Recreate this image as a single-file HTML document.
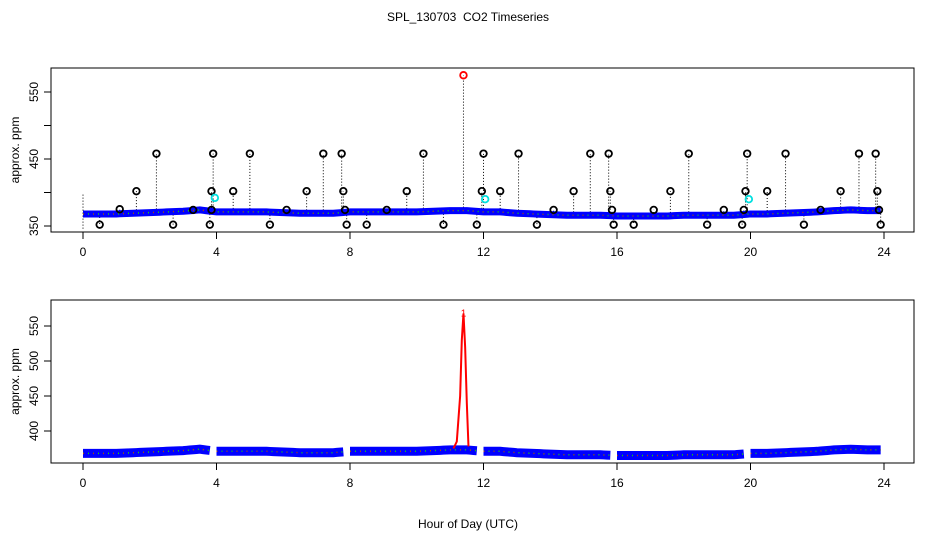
<!DOCTYPE html>
<html><head><meta charset="utf-8"><style>
body{margin:0;background:#fff}
svg{display:block;font-family:"Liberation Sans",sans-serif}
</style></head><body>
<svg id="chart" width="936" height="540" viewBox="0 0 936 540">
<text x="468" y="21" font-size="12" text-anchor="middle" style="white-space:pre" xml:space="preserve">SPL_130703  CO2 Timeseries</text>
<text x="468" y="528" font-size="12" text-anchor="middle">Hour of Day (UTC)</text>
<g id="topPanel"></g>
<g id="botPanel"></g>
</svg>
<script>
// half-hour baseline CO2 values (0..23.5)
const baseHours=[0,0.5,1,1.5,2,2.5,3,3.5,4,4.5,5,5.5,6,6.5,7,7.5,8,8.5,9,9.5,10,10.5,11,11.5,12,12.5,13,13.5,14,14.5,15,15.5,16,16.5,17,17.5,18,18.5,19,19.5,20,20.5,21,21.5,22,22.5,23,23.5,23.9];
const baseVals=[368,368,368,369,370,371,372,374,371,371,371,371,370,369,369,369,371,371,371,371,371,372,373,373,371,371,369,368,367,366,366,366,365,365,365,365,366,366,366,366,368,368,369,370,371,373,374,373,373];
// spike calibration points
const spikeHours=[0.5,1.1,1.6,2.2,2.7,3.3,3.8,3.85,3.85,3.9,4.5,5.0,5.6,6.1,6.7,7.2,7.75,7.8,7.85,7.9,8.5,9.1,9.7,10.2,10.8,11.8,11.95,12.0,12.5,13.05,13.6,14.1,14.7,15.2,15.75,15.8,15.85,15.9,16.5,17.1,17.6,18.15,18.7,19.2,19.75,19.8,19.85,19.9,20.5,21.05,21.6,22.1,22.7,23.25,23.75,23.8,23.85,23.9];
const spikeVals=[352,375,402,458,352,374,352,374,402,458,402,458,352,374,402,458,458,402,374,352,352,374,402,458,352,352,402,458,402,458,352,374,402,458,458,402,374,352,352,374,402,458,352,374,352,374,402,458,402,458,352,374,402,458,458,402,374,352];
const cyanHours=[3.95,12.05,19.95];
const cyanVals=[392,390,390];
const outlierHours=[11.4];
const outlierVals=[575];
// bottom panel red spike
const peakHours=[11.1,11.2,11.3,11.35,11.4,11.45,11.5,11.55];
const peakVals=[375,385,450,530,568,520,440,378];
const xTicks=[0,4,8,12,16,20,24];
const gaps=[[3.8,4.0],[7.8,8.0],[11.8,12.0],[15.8,16.0],[19.8,20.0]];

const NS="http://www.w3.org/2000/svg";
const X=h=>83+h*(884-83)/24;
const Yt=v=>226-(v-350)*0.67;
const Yb=v=>431-(v-400)*0.7;
function mk(p,t,a){const e=document.createElementNS(NS,t);for(const k in a)e.setAttribute(k,a[k]);p.appendChild(e);return e;}
function baseAt(h){for(let i=0;i<baseHours.length-1;i++){if(h<=baseHours[i+1]){const f=(h-baseHours[i])/(baseHours[i+1]-baseHours[i]);return baseVals[i]+f*(baseVals[i+1]-baseVals[i]);}}return baseVals[baseVals.length-1];}
function axes(g,Y,yt,labels,t0,b0){
  const box=mk(g,'rect',{x:51,y:t0,width:863,height:b0-t0,fill:'none',stroke:'#000','stroke-width':1});
  
  xTicks.forEach(t=>{
    const l=mk(g,'line',{x1:X(t),x2:X(t),y1:b0,y2:b0+7,stroke:'#000'});
    
    const tx=mk(g,'text',{x:X(t),y:b0+24,'font-size':12,'text-anchor':'middle'});tx.textContent=t;
    
  });
  yt.forEach((v,i)=>{
    const l=mk(g,'line',{x1:44,x2:51,y1:Y(v),y2:Y(v),stroke:'#000'});
    
    if(labels[i]){const tx=mk(g,'text',{x:0,y:0,'font-size':12,'text-anchor':'middle',transform:`translate(38,${Y(v)}) rotate(-90)`});tx.textContent=labels[i];
    }
  });
  const yl=mk(g,'text',{x:0,y:0,'font-size':12,'text-anchor':'middle',transform:`translate(19,${(t0+b0)/2}) rotate(-90)`});yl.textContent='approx. ppm';
  
}
const gTop=document.getElementById('topPanel'),gBot=document.getElementById('botPanel');
axes(gTop,Yt,[350,400,450,500,550],['350','','450','','550'],68,232);
axes(gBot,Yb,[400,450,500,550],['400','450','500','550'],300,463);

mk(gTop,'line',{x1:X(0),x2:X(0),y1:Yt(346),y2:Yt(398),stroke:'#000','stroke-dasharray':'1,2'});
spikeHours.forEach((h,i)=>{const l=mk(gTop,'line',{x1:X(h),x2:X(h),y1:Yt(baseAt(h)),y2:Yt(spikeVals[i]),stroke:'#000','stroke-dasharray':'1,2'});
});
outlierHours.forEach((h,i)=>{const l=mk(gTop,'line',{x1:X(h),x2:X(h),y1:Yt(baseAt(h)),y2:Yt(outlierVals[i]),stroke:'#000','stroke-dasharray':'1,2'});
});
function band(g,Y,w,splitGaps){
  let segs=[[0,23.9]];
  if(splitGaps){segs=[];let s=0;gaps.forEach(gp=>{segs.push([s,gp[0]]);s=gp[1];});segs.push([s,23.9]);}
  segs.forEach(sg=>{
    const pts=[];for(let h=sg[0];h<=sg[1]+1e-6;h+=0.1)pts.push(X(h)+','+Y(baseAt(h)));
    const p=mk(g,'polyline',{points:pts.join(' '),fill:'none',stroke:'#0000ff','stroke-width':w});
    
    mk(g,'polyline',{points:pts.join(' '),fill:'none',stroke:'#10d010','stroke-width':1.5,'stroke-dasharray':'1,4'});
    mk(g,'polyline',{points:pts.join(' '),fill:'none',stroke:'#e01010','stroke-width':1,'stroke-dasharray':'1,9'});
  });
}
band(gTop,Yt,7,false);
spikeHours.forEach((h,i)=>{const c=mk(gTop,'circle',{cx:X(h),cy:Yt(spikeVals[i]),r:3.3,fill:'none',stroke:'#000','stroke-width':1.8});
});
cyanHours.forEach((h,i)=>{const c=mk(gTop,'circle',{cx:X(h),cy:Yt(cyanVals[i]),r:3.3,fill:'none',stroke:'#00e0e0','stroke-width':1.8});
});
outlierHours.forEach((h,i)=>{const c=mk(gTop,'circle',{cx:X(h),cy:Yt(outlierVals[i]),r:3.3,fill:'none',stroke:'#f00','stroke-width':1.8});
});

band(gBot,Yb,9,true);
const pk=mk(gBot,'polyline',{points:peakHours.map((h,i)=>X(h)+','+Yb(peakVals[i])).join(' '),fill:'none',stroke:'#f00','stroke-width':2});

const mi=peakVals.indexOf(Math.max(...peakVals));
const pt=mk(gBot,'text',{x:X(peakHours[mi]),y:Yb(peakVals[mi])+3,'font-size':10,fill:'#f00','text-anchor':'middle'});pt.textContent='1';

</script>
</body></html>
